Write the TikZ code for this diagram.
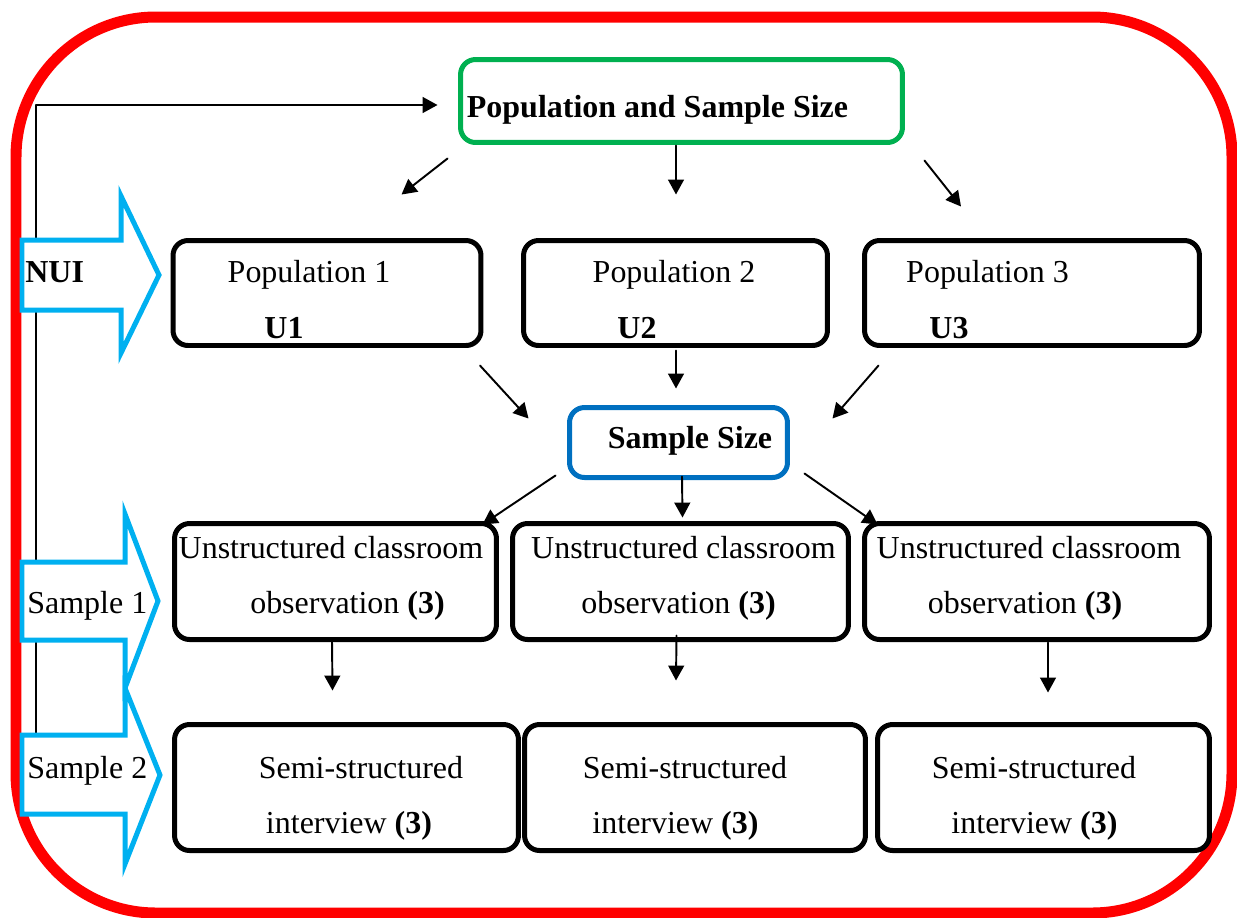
\documentclass[tikz,border=0pt]{standalone}
\usepackage{fontspec}
\setmainfont{Liberation Serif}
\usepackage{tikz}
\usetikzlibrary{arrows.meta}
\definecolor{framered}{HTML}{FF0000}
\definecolor{popgreen}{HTML}{00B050}
\definecolor{sizeblue}{HTML}{0070C0}
\definecolor{sampcyan}{HTML}{00B0F0}

\begin{document}
\begin{tikzpicture}[line cap=round,line join=round,x=0.02cm,y=-0.02cm,
	box/.style={draw,line width=0.1cm,rounded corners=0.3cm,inner sep=0pt,outer sep=0pt},
	txt/.style={inner sep=0pt,anchor=base,font=\fontsize{18.2}{31}\selectfont},
	btxt/.style={inner sep=0pt,anchor=base,font=\fontsize{18.2}{31}\selectfont\bfseries},
	arr/.style={-{Triangle[length=8.5pt,width=9pt]},line width=1.1pt},
	blockarr/.style={draw=sampcyan,fill=white,line width=0.1cm,line join=miter}]
			\useasboundingbox (0,0) rectangle (1237,917);
			\draw [framered,line width=0.22cm,rounded corners=2.8cm] (16,17) rectangle (1232,913);
			\coordinate (fb) at (36,775);
			\node [box,draw=popgreen,minimum width=8.84cm,minimum height=1.66cm] (popsize) at (681.5,101) {};
			\draw [arr] (fb) |- ([shift={(-23,4)}]popsize.west);
			\draw [blockarr] (22,240) -- (121,240) -- (121,196) -- (159,275) -- (121,353) -- (121,310) -- (22,310) -- cycle;
			\draw [blockarr] (22,562) -- (125,562) -- (125,514) -- (158,601) -- (125,688) -- (125,640) -- (22,640) -- cycle;
			\draw [blockarr] (22,735) -- (125,735) -- (125,688) -- (160,775) -- (125,864) -- (125,814) -- (22,814) -- cycle;
			\node [btxt,anchor=base west] (nui) at (25,282) {NUI};
			\node [txt,anchor=base west] (samp1) at (27,613) {Sample 1};
			\node [txt,anchor=base west] (samp2) at (27,778) {Sample 2};
			\node [box,minimum width=6.16cm,minimum height=2.1cm] (pop1) at (327,293) {};
			\node [box,minimum width=6.08cm,minimum height=2.1cm] (pop2) at (675.5,293) {};
			\node [box,minimum width=6.7cm,minimum height=2.1cm] (pop3) at (1032,293) {};
			\node [box,draw=sizeblue,minimum width=4.36cm,minimum height=1.4cm] (size) at (678.5,442.5) {};
			\node [box,minimum width=6.44cm,minimum height=2.32cm] (obs1) at (335.5,581.5) {};
			\node [box,minimum width=6.72cm,minimum height=2.32cm] (obs2) at (680.5,581.5) {};
			\node [box,minimum width=6.9cm,minimum height=2.32cm] (obs3) at (1037,581.5) {};
			\node [box,minimum width=6.88cm,minimum height=2.52cm] (int1) at (346.5,787.5) {};
			\node [box,minimum width=6.82cm,minimum height=2.52cm] (int2) at (695,787.5) {};
			\node [box,minimum width=6.64cm,minimum height=2.52cm] (int3) at (1043.5,787.5) {};
			\node [btxt] (popsize-t) at (657.5,117) {Population and Sample Size};
			\node [txt] (pop1-a) at (309,282) {Population 1};
			\node [btxt] (pop1-b) at (284,338) {U1};
			\node [txt] (pop2-a) at (674,282) {Population 2};
			\node [btxt] (pop2-b) at (637,338) {U2};
			\node [txt] (pop3-a) at (987.5,282) {Population 3};
			\node [btxt] (pop3-b) at (949,338) {U3};
			\node [btxt] (size-t) at (690,448) {Sample Size};
			\node [txt] (obs1-a) at (331,558) {Unstructured classroom};
			\node [txt] (obs1-b) at (347.5,613) {observation \textbf{(3)}};
			\node [txt] (obs2-a) at (683.5,558) {Unstructured classroom};
			\node [txt] (obs2-b) at (678.5,613) {observation \textbf{(3)}};
			\node [txt] (obs3-a) at (1029,558) {Unstructured classroom};
			\node [txt] (obs3-b) at (1025,613) {observation \textbf{(3)}};
			\node [txt] (int1-a) at (361,778) {Semi-structured};
			\node [txt] (int1-b) at (349,833) {interview \textbf{(3)}};
			\node [txt] (int2-a) at (685,778) {Semi-structured};
			\node [txt] (int2-b) at (675.5,833) {interview \textbf{(3)}};
			\node [txt] (int3-a) at (1034,778) {Semi-structured};
			\node [txt] (int3-b) at (1034.5,833) {interview \textbf{(3)}};
			\draw [arr] ([shift={(-13,16)}]popsize.south west) -- ([shift={(74.5,-46)}]pop1.north);
			\draw [arr] ([shift={(-5.5,3)}]popsize.south) -- ([shift={(0.5,-46)}]pop2.north);
			\draw [arr] ([shift={(22,18)}]popsize.south east) -- ([shift={(-71,-34)}]pop3.north);
			\draw [arr] ([shift={(-1,20)}]pop1.south east) -- ([shift={(-41,11)}]size.north west);
			\draw [arr] ([shift={(0.5,5)}]pop2.south) -- ([shift={(-2.5,-19)}]size.north);
			\draw [arr] ([shift={(14,20)}]pop3.south west) -- ([shift={(45,11)}]size.north east);
			\draw [arr] ([shift={(-14,-2)}]size.south west) -- ([shift={(-14,1)}]obs1.north east);
			\draw [arr] ([shift={(3.5,-1)}]size.south) -- ([shift={(2,-6)}]obs2.north);
			\draw [arr] ([shift={(17,-4)}]size.south east) -- ([shift={(13,1)}]obs3.north west);
			\draw [arr] ([shift={(-3.5,1)}]obs1.south) -- ([shift={(-14,-34)}]int1.north);
			\draw [arr] ([shift={(-4,-4)}]obs2.south) -- ([shift={(-19,-44)}]int2.north);
			\draw [arr] ([shift={(11,3)}]obs3.south) -- ([shift={(4.5,-32)}]int3.north);
\end{tikzpicture}
\end{document}
